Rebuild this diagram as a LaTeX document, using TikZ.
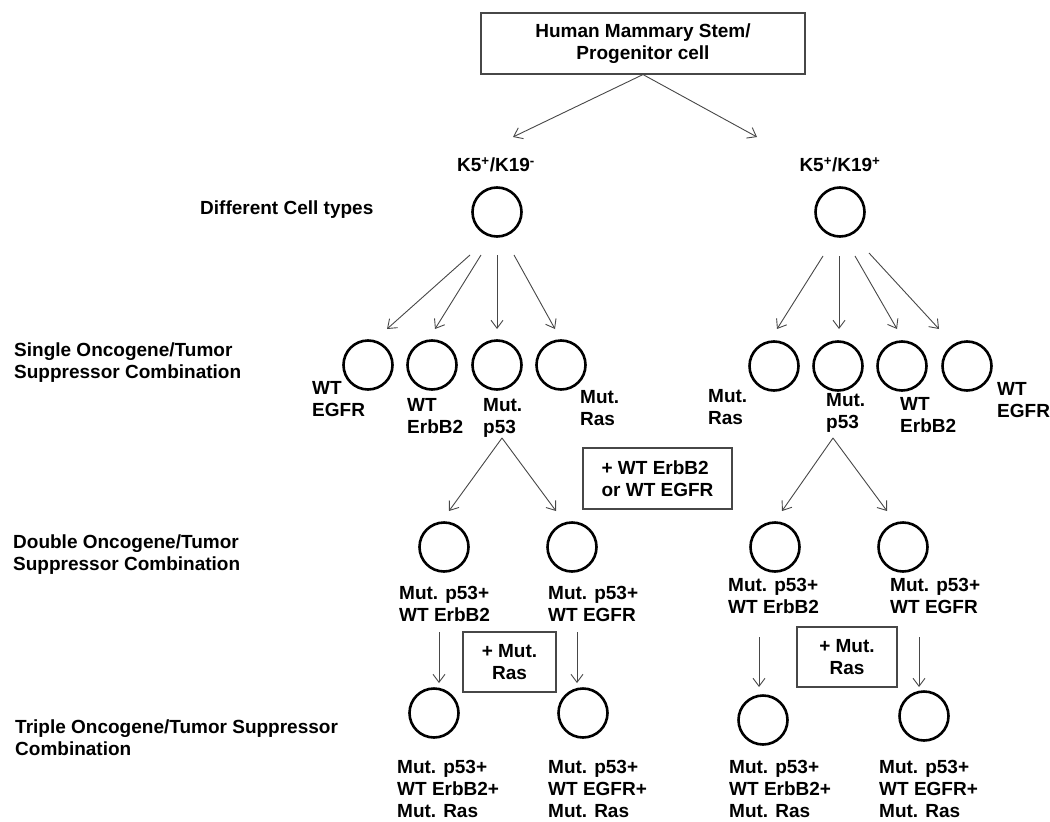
\documentclass[tikz,border=0pt]{standalone}
\usepackage{fontspec}
\setmainfont{Liberation Sans}
\usetikzlibrary{arrows.meta}
\begin{document}
\begin{tikzpicture}[x=1pt,y=-1pt,
  lab/.style={font=\fontsize{19}{22}\selectfont\bfseries, align=left, anchor=north west, inner sep=0pt, text=black},
  ctr/.style={font=\fontsize{19}{22}\selectfont\bfseries, align=center, inner sep=0pt, text=black},
  cell/.style={circle, draw=black, line width=2.6pt, minimum size=49pt, inner sep=0pt},
  arr/.style={draw=black!72, line width=0.9pt, -{Straight Barb[length=8pt,width=12pt,line width=0.9pt]}},
  plusbox/.style={draw=black!72, line width=1.1pt, inner sep=0pt}
]
\useasboundingbox (0,0) rectangle (1050,822);

% title
\node[plusbox, ctr, minimum width=324pt, minimum height=61pt] (top) at (643,43.5) {Human Mammary Stem/\\Progenitor cell};
\coordinate (tipL) at (513,137);
\coordinate (tipR) at (757,137);
\draw[arr] (top.south) -- (tipL);
\draw[arr] (top.south) -- (tipR);

% cell types
\node[ctr] (kL) at (496,165) {K5\textsuperscript{+}/K19\textsuperscript{-}};
\node[ctr] (kR) at (840,165) {K5\textsuperscript{+}/K19\textsuperscript{+}};
\node[cell] (c0L) at (497,212) {};
\node[cell] (c0R) at (840,212) {};
\node[lab, anchor=west] (dct) at (200,210) {Different Cell types};

% single circles
\node[cell] (sL1) at (368,365) {};
\node[cell] (sL2) at (432,365) {};
\node[cell] (sL3) at (497,365) {};
\node[cell] (sL4) at (561,365) {};
\node[cell] (sR1) at (774,366) {};
\node[cell] (sR2) at (838,366) {};
\node[cell] (sR3) at (902,366) {};
\node[cell] (sR4) at (967,366) {};

% arrows from parent cells
\coordinate (aL1s) at (470,255); \coordinate (aL1e) at (387,329);
\coordinate (aL2s) at (481,255); \coordinate (aL2e) at (435,329);
\coordinate (aL3s) at (497,255); \coordinate (aL3e) at (497,329);
\coordinate (aL4s) at (514,255); \coordinate (aL4e) at (555,329);
\coordinate (aR1s) at (823,256); \coordinate (aR1e) at (777,329);
\coordinate (aR2s) at (839,256); \coordinate (aR2e) at (839,329);
\coordinate (aR3s) at (855,256); \coordinate (aR3e) at (897,329);
\coordinate (aR4s) at (869,253); \coordinate (aR4e) at (939,329);
\foreach \n in {L1,L2,L3,L4,R1,R2,R3,R4}{\draw[arr] (a\n s) -- (a\n e);}

% single labels
\node[lab] (lL1) at (312,381) {WT\\EGFR};
\node[lab] (lL2) at (407,398) {WT\\ErbB2};
\node[lab] (lL3) at (483,398) {Mut.\\p53};
\node[lab] (lL4) at (580,390) {Mut.\\Ras};
\node[lab] (lR1) at (708,389) {Mut.\\Ras};
\node[lab] (lR2) at (826,393) {Mut.\\p53};
\node[lab] (lR3) at (900,397) {WT\\ErbB2};
\node[lab] (lR4) at (997,382) {WT\\EGFR};

% add box
\node[plusbox, font=\fontsize{19}{22}\selectfont\bfseries, align=left, minimum width=149pt, minimum height=61pt] (addA) at (657.5,478.5) {+ WT ErbB2\\or WT EGFR};

% p53 -> double
\coordinate (pL) at (502,438);
\coordinate (pR) at (833,438);
\coordinate (pL1) at (449,511); \coordinate (pL2) at (556,511);
\coordinate (pR1) at (782,511); \coordinate (pR2) at (887,511);
\draw[arr] (pL) -- (pL1); \draw[arr] (pL) -- (pL2);
\draw[arr] (pR) -- (pR1); \draw[arr] (pR) -- (pR2);

% double circles
\node[cell] (dL1) at (444,547) {};
\node[cell] (dL2) at (572,547) {};
\node[cell] (dR1) at (775,547) {};
\node[cell] (dR2) at (903,547) {};

\node[lab] (dlL1) at (399,586) {Mut. p53+\\WT ErbB2};
\node[lab] (dlL2) at (548,586) {Mut. p53+\\WT EGFR};
\node[lab] (dlR1) at (728,578) {Mut. p53+\\WT ErbB2};
\node[lab] (dlR2) at (890,578) {Mut. p53+\\WT EGFR};

% + Mut. Ras boxes
\node[plusbox, ctr, minimum width=93pt, minimum height=60pt] (addL) at (509.5,662) {+ Mut.\\Ras};
\node[plusbox, ctr, minimum width=100pt, minimum height=60pt] (addR) at (847,657) {+ Mut.\\Ras};

% double -> triple arrows
\coordinate (bL1s) at (439,632); \coordinate (bL1e) at (439,683);
\coordinate (bL2s) at (577,632); \coordinate (bL2e) at (577,683);
\coordinate (bR1s) at (759,637); \coordinate (bR1e) at (759,687);
\coordinate (bR2s) at (919,637); \coordinate (bR2e) at (919,687);
\foreach \n in {L1,L2,R1,R2}{\draw[arr] (b\n s) -- (b\n e);}

% triple circles
\node[cell] (tL1) at (434,713) {};
\node[cell] (tL2) at (583,713) {};
\node[cell] (tR1) at (763,720) {};
\node[cell] (tR2) at (924,716) {};

\node[lab] (tlL1) at (397,760) {Mut. p53+\\WT ErbB2+\\Mut. Ras};
\node[lab] (tlL2) at (548,760) {Mut. p53+\\WT EGFR+\\Mut. Ras};
\node[lab] (tlR1) at (729,760) {Mut. p53+\\WT ErbB2+\\Mut. Ras};
\node[lab] (tlR2) at (879,760) {Mut. p53+\\WT EGFR+\\Mut. Ras};

% row labels
\node[lab] (rS) at (14,343) {Single Oncogene/Tumor\\Suppressor Combination};
\node[lab] (rD) at (13,535) {Double Oncogene/Tumor\\Suppressor Combination};
\node[lab] (rT) at (15,720) {Triple Oncogene/Tumor Suppressor\\Combination};
\end{tikzpicture}
\end{document}
